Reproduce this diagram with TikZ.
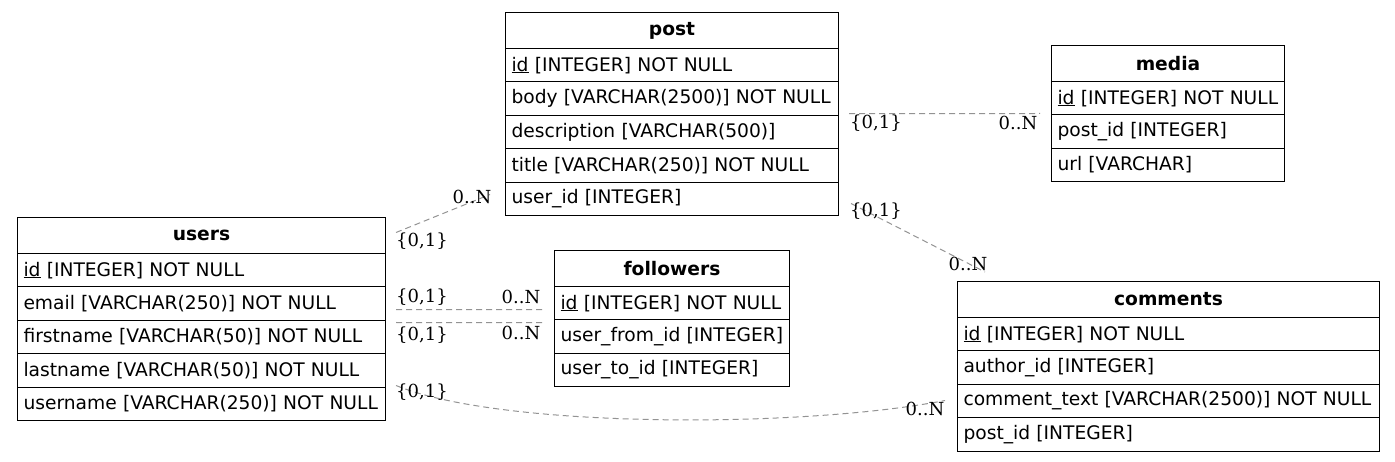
\documentclass[tikz,border=0pt]{standalone}
\usepackage{fontspec}
\setmainfont{DejaVu Sans}
\newfontfamily\lblfont{DejaVu Serif}
\newcommand\ulid{\mbox{\vtop{\hbox{id}\kern0.8pt\hrule height 0.7pt}}}
\tikzset{
  hdr/.style={draw, line width=1pt, anchor=north west, minimum width=#1, minimum height=36pt, inner sep=0pt, font=\fontsize{18.67}{22}\selectfont\bfseries},
  row/.style={draw, line width=1pt, anchor=north west, minimum height=33.4pt, inner xsep=6pt, inner ysep=0pt, text width=#1, align=left, font=\fontsize{18.67}{22}\selectfont},
  rel/.style={draw=gray!85, line width=1pt, dash pattern=on 6pt off 4pt},
  card/.style={inner sep=0pt, font=\lblfont\fontsize{18}{20}\selectfont}
}
\begin{document}
\begin{tikzpicture}[x=1pt,y=-1pt]
\useasboundingbox (0,0) rectangle (1395,462);
% post
\node[hdr=333pt] (post) at (505,12) {post};
\node[row=321pt] (post-id) at (505,48) {\ulid{} [INTEGER] NOT NULL};
\node[row=321pt] (post-body) at (505,81.4) {\mbox{body [VARCHAR(2500)] NOT NULL}};
\node[row=321pt] (post-desc) at (505,114.8) {description [VARCHAR(500)]};
\node[row=321pt] (post-title) at (505,148.2) {title [VARCHAR(250)] NOT NULL};
\node[row=321pt] (post-uid) at (505,181.6) {user\_id [INTEGER]};
% media
\node[hdr=233pt] (media) at (1051,45) {media};
\node[row=221pt] (media-id) at (1051,81) {\ulid{} [INTEGER] NOT NULL};
\node[row=221pt] (media-pid) at (1051,114.4) {post\_id [INTEGER]};
\node[row=221pt] (media-url) at (1051,147.8) {url [VARCHAR]};
% users
\node[hdr=368pt] (users) at (17,217) {users};
\node[row=356pt] (users-id) at (17,253) {\ulid{} [INTEGER] NOT NULL};
\node[row=356pt] (users-email) at (17,286.4) {email [VARCHAR(250)] NOT NULL};
\node[row=356pt] (users-first) at (17,319.8) {firstname [VARCHAR(50)] NOT NULL};
\node[row=356pt] (users-last) at (17,353.2) {lastname [VARCHAR(50)] NOT NULL};
\node[row=356pt] (users-name) at (17,386.6) {\mbox{username [VARCHAR(250)] NOT NULL}};
% followers
\node[hdr=235pt] (fol) at (554,250) {followers};
\node[row=223pt] (fol-id) at (554,286) {\ulid{} [INTEGER] NOT NULL};
\node[row=223pt] (fol-from) at (554,319.4) {user\_from\_id [INTEGER]};
\node[row=223pt] (fol-to) at (554,352.8) {user\_to\_id [INTEGER]};
% comments
\node[hdr=422pt] (com) at (957,281) {comments};
\node[row=410pt] (com-id) at (957,317) {\ulid{} [INTEGER] NOT NULL};
\node[row=410pt] (com-author) at (957,350.4) {author\_id [INTEGER]};
\node[row=410pt] (com-text) at (957,383.8) {\mbox{comment\_text [VARCHAR(2500)] NOT NULL}};
\node[row=410pt] (com-pid) at (957,417.2) {post\_id [INTEGER]};
% relations
\draw[rel] ([xshift=10pt,yshift=3pt]users.east) -- ([xshift=-15pt,yshift=4.3pt]post-uid.west);
\draw[rel] ([xshift=10pt,yshift=-6pt]users-email.east) -- ([xshift=-11pt,yshift=-6.3pt]fol-id.west);
\draw[rel] ([xshift=10pt,yshift=14.5pt]users-first.east) -- ([xshift=-11pt,yshift=14pt]fol-from.west);
\draw[rel] ([xshift=10pt,yshift=18.3pt]users-name.east) .. controls +(105,43) and +(-145,28) .. ([xshift=-12pt,yshift=0.5pt]com-text.west);
\draw[rel] ([xshift=10pt,yshift=-15pt]post-body.east) -- ([xshift=-11pt,yshift=-15.3pt]media-id.west);
\draw[rel] ([xshift=12pt,yshift=-4.7pt]post-uid.east) -- ([xshift=28pt,yshift=9pt]com.north west);
% cardinalities
\node[card] (c1a) at (422,241) {\{0,1\}};
\node[card] (c1b) at (472,197) {0..N};
\node[card] (c2a) at (422,297) {\{0,1\}};
\node[card] (c2b) at (521,297) {0..N};
\node[card] (c3a) at (422,335) {\{0,1\}};
\node[card] (c3b) at (521,333) {0..N};
\node[card] (c4a) at (422,392) {\{0,1\}};
\node[card] (c4b) at (925,409) {0..N};
\node[card] (c5a) at (876,123) {\{0,1\}};
\node[card] (c5b) at (1018,123) {0..N};
\node[card] (c6a) at (876,211) {\{0,1\}};
\node[card] (c6b) at (968,264) {0..N};
\end{tikzpicture}
\end{document}
